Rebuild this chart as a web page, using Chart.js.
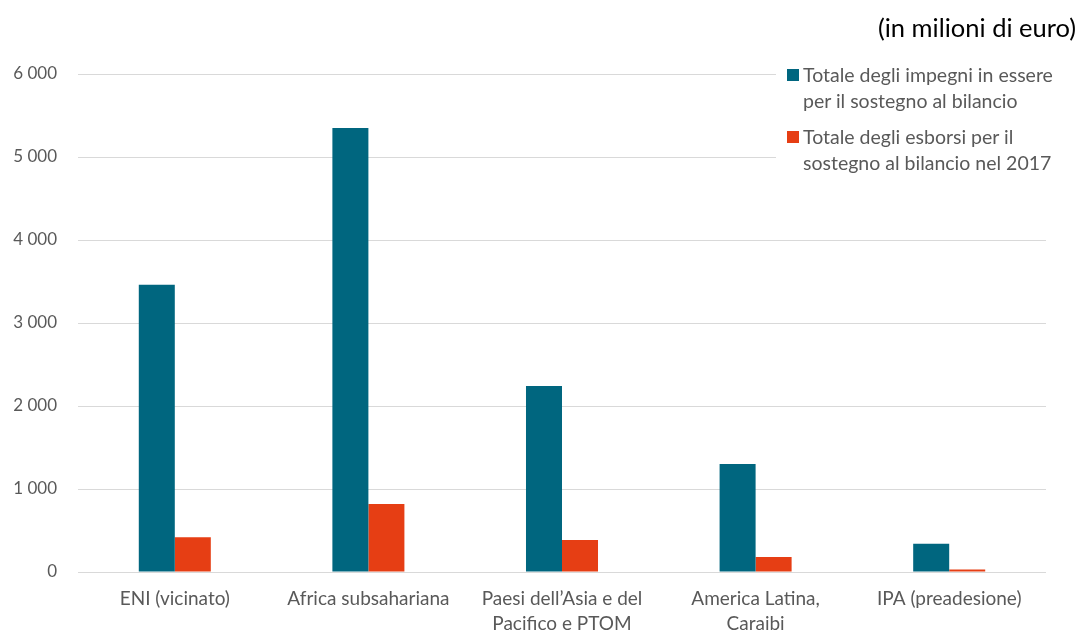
<!DOCTYPE html>
<html lang="it">
<head>
<meta charset="utf-8">
<script src="https://cdn.jsdelivr.net/npm/chart.js@4"></script>
<style>
    body { margin: 0; background: #fff; font-family: Lato, sans-serif; }
    #wrap { position: relative; width: 1080px; height: 632px; }
    #titolo { position: absolute; right: 4px; top: 12px; font-size: 25.5px; color: #000; }
    #legenda { position: absolute; left: 776px; top: 62px; width: 304px; background: #fff; padding-bottom: 8px; }
    .voce { position: relative; padding-left: 27px; font-size: 19.5px; line-height: 26px; color: #595959; margin-bottom: 10px; white-space: nowrap; }
    .voce span { position: absolute; left: 11px; top: 7px; width: 12px; height: 12px; }
</style>
</head>
<body>
<div id="wrap">
    <canvas id="grafico" width="1080" height="632"></canvas>
    <div id="titolo">(in milioni di euro)</div>
    <div id="legenda"></div>
</div>
<script>
const categorie = [
    "ENI (vicinato)",
    "Africa subsahariana",
    ["Paesi dell\u2019Asia e del", "Pacifico e PTOM"],
    ["America Latina,", "Caraibi"],
    "IPA (preadesione)"
];
const impegni = [3460, 5350, 2240, 1300, 340];
const esborsi = [420, 820, 385, 180, 30];
const nomiSerie = [
    ["Totale degli impegni in essere", "per il sostegno al bilancio"],
    ["Totale degli esborsi per il", "sostegno al bilancio nel 2017"]
];
const cori = ["#00667F", "#E63E14"];
const tickY = [0, 1000, 2000, 3000, 4000, 5000, 6000];

function formatta(v) {
    return v.toString().replace(/\B(?=(\d{3})+(?!\d))/g, " ");
}

// legenda html sopra la griglia
const legenda = document.getElementById("legenda");
nomiSerie.forEach((righe, i) => {
    const d = document.createElement("div");
    d.className = "voce";
    d.innerHTML = `<span style="background:${cori[i]}"></span>` + righe.join("<br>");
    legenda.appendChild(d);
});

const ctx = document.getElementById("grafico").getContext("2d");
new Chart(ctx, {
    type: "bar",
    data: {
        labels: categorie,
        datasets: [
            { label: nomiSerie[0].join(" "), data: impegni, backgroundColor: cori[0], categoryPercentage: 0.372, barPercentage: 1 },
            { label: nomiSerie[1].join(" "), data: esborsi, backgroundColor: cori[1], categoryPercentage: 0.372, barPercentage: 1 }
        ]
    },
    options: {
        responsive: false,
        animation: false,
        layout: { padding: { top: 74, right: 34, left: 0, bottom: 0 } },
        plugins: {
            legend: { display: false },
            tooltip: { enabled: false }
        },
        scales: {
            x: {
                grid: { display: false },
                border: { display: false },
                ticks: {
                    color: "#595959",
                    padding: 7,
                    maxRotation: 0,
                    autoSkip: false,
                    font: { family: "Lato", size: 19, lineHeight: 1.3 }
                },
                afterFit: s => { s.height = 60; }
            },
            y: {
                min: 0,
                max: 6000,
                afterBuildTicks: s => { s.ticks = tickY.map(v => ({ value: v })); },
                grid: { color: "#D9D9D9", lineWidth: 1, drawTicks: false },
                border: { display: false },
                ticks: {
                    color: "#595959",
                    padding: 21,
                    font: { family: "Lato", size: 17 },
                    callback: v => formatta(v)
                },
                afterFit: s => { s.width = 78; }
            }
        }
    }
});
</script>
</body>
</html>
